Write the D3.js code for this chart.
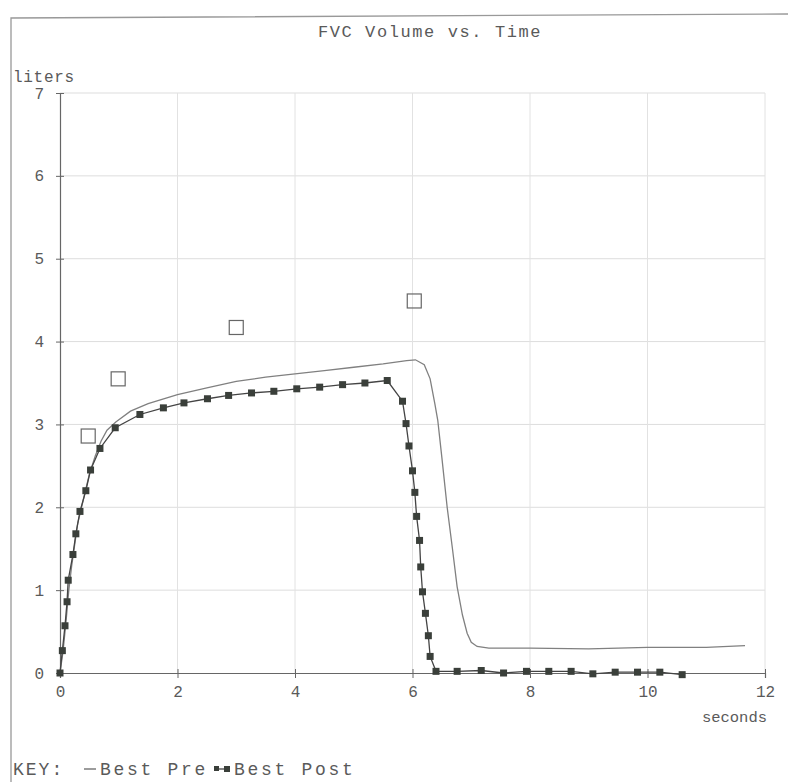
<!DOCTYPE html>
<html><head><meta charset="utf-8">
<script src="https://cdn.jsdelivr.net/npm/d3@7"></script>
<style>body{margin:0;background:#fff}svg{display:block}text{font-family:"Liberation Mono","DejaVu Sans Mono",monospace;fill:#5a5a5a}</style>
</head><body>
<script>
const title = "FVC Volume vs. Time";
const xTicks = [0,2,4,6,8,10,12];
const yTicks = [0,1,2,3,4,5,6,7];
// Best Pre (solid line)
const preT = [0,0.05,0.1,0.15,0.2,0.3,0.4,0.5,0.6,0.7,0.8,0.95,1.2,1.5,2,2.5,3,3.5,4,4.5,5,5.5,5.9,6.05,6.2,6.3,6.38,6.43,6.5,6.59,6.68,6.76,6.85,6.93,7.0,7.1,7.3,8,9,10,11,11.66];
const preV = [0,0.25,0.6,1.0,1.3,1.8,2.1,2.4,2.62,2.8,2.93,3.03,3.16,3.25,3.36,3.44,3.52,3.57,3.61,3.65,3.69,3.73,3.77,3.78,3.72,3.55,3.25,3.05,2.6,2.0,1.5,1.04,0.7,0.48,0.37,0.32,0.3,0.3,0.29,0.31,0.31,0.33];
// Best Post (squares)
const postT = [0,0.04,0.085,0.12,0.14,0.22,0.27,0.34,0.44,0.52,0.68,0.94,1.36,1.76,2.11,2.51,2.87,3.26,3.64,4.03,4.42,4.81,5.19,5.57,5.83,5.89,5.94,6.0,6.04,6.07,6.12,6.14,6.17,6.22,6.27,6.3,6.4,6.76,7.17,7.55,7.94,8.32,8.7,9.07,9.45,9.83,10.21,10.59];
const postV = [0,0.27,0.57,0.86,1.12,1.43,1.68,1.95,2.2,2.45,2.71,2.96,3.12,3.2,3.26,3.31,3.35,3.38,3.40,3.43,3.45,3.48,3.50,3.53,3.28,3.01,2.74,2.44,2.18,1.89,1.60,1.28,0.98,0.72,0.45,0.2,0.02,0.02,0.03,0.0,0.02,0.02,0.02,-0.01,0.01,0.01,0.01,-0.02];
// Predicted (open squares)
const predT = [0.48,0.99,3.0,6.03];
const predV = [2.86,3.55,4.17,4.49];

const W=788,H=782;
const svg=d3.select("body").append("svg").attr("width",W).attr("height",H);
const x=d3.scaleLinear().domain([0,12]).range([60,765]);
const y=d3.scaleLinear().domain([0,7]).range([673,93]);

// page frame
svg.append("path").attr("d","M11,782 L11,18 L788,14").attr("fill","none").attr("stroke","#999").attr("stroke-width",1.3);

// grid
svg.append("g").selectAll("line").data(yTicks.filter(d=>d>0)).join("line")
  .attr("x1",x(0)).attr("x2",x(12)).attr("y1",d=>y(d)).attr("y2",d=>y(d))
  .attr("stroke","#ddd").attr("stroke-width",1);
svg.append("g").selectAll("line").data(xTicks.filter(d=>d>0)).join("line")
  .attr("y1",y(0)).attr("y2",y(7)).attr("x1",d=>x(d)).attr("x2",d=>x(d))
  .attr("stroke","#e2e2e2").attr("stroke-width",1);

// axes
const ax=d3.axisLeft(y).tickValues(yTicks).tickSize(4).tickPadding(12).tickFormat(d3.format("d"));
const gy=svg.append("g").attr("transform",`translate(${x(0)},0)`).call(ax);
const bx=d3.axisBottom(x).tickValues(xTicks).tickSize(5).tickPadding(8).tickFormat(d3.format("d"));
const gx=svg.append("g").attr("transform",`translate(0,${y(0)})`).call(bx);
[gy,gx].forEach(g=>{
  g.select(".domain").attr("stroke","#666").attr("stroke-width",1.2);
  g.selectAll(".tick line").attr("stroke","#666");
  g.selectAll(".tick text").attr("font-size",16).attr("fill","#5a5a5a").style("font-family","Liberation Mono, monospace");
});
gx.selectAll(".tick line").attr("y1",-4);
gy.selectAll(".tick line").attr("x1",4);

// labels
svg.append("text").attr("x",430).attr("y",37).attr("text-anchor","middle").attr("font-size",17).attr("letter-spacing",1.6).text(title);
svg.append("text").attr("x",13).attr("y",82).attr("font-size",16).attr("letter-spacing",0.7).text("liters");
svg.append("text").attr("x",767).attr("y",722).attr("text-anchor","end").attr("font-size",15.5).text("seconds");

// pre line
svg.append("path").datum(preT.map((t,i)=>[t,preV[i]]))
  .attr("d",d3.line().x(d=>x(d[0])).y(d=>y(d[1])))
  .attr("fill","none").attr("stroke","#808080").attr("stroke-width",1.3);

// post line + squares
const post=postT.map((t,i)=>[t,postV[i]]);
svg.append("path").datum(post)
  .attr("d",d3.line().x(d=>x(d[0])).y(d=>y(d[1])))
  .attr("fill","none").attr("stroke","#444").attr("stroke-width",1.3);
svg.append("g").selectAll("rect").data(post).join("rect")
  .attr("x",d=>x(d[0])-3.5).attr("y",d=>y(d[1])-3.5).attr("width",7).attr("height",7)
  .attr("fill","#3a3f3a");

// predicted
svg.append("g").selectAll("rect").data(predT.map((t,i)=>[t,predV[i]])).join("rect")
  .attr("x",d=>x(d[0])-7).attr("y",d=>y(d[1])-7).attr("width",14).attr("height",14)
  .attr("fill","none").attr("stroke","#666").attr("stroke-width",1.2);

// key
const ky=775, kfs=18, kls=2.7;
svg.append("text").attr("x",13).attr("y",ky).attr("font-size",kfs).attr("letter-spacing",2.0).text("KEY:");
svg.append("line").attr("x1",84).attr("x2",96).attr("y1",ky-6).attr("y2",ky-6).attr("stroke","#666").attr("stroke-width",1.3);
svg.append("text").attr("x",100).attr("y",ky).attr("font-size",kfs).attr("letter-spacing",kls).text("Best Pre");
svg.append("line").attr("x1",216).attr("x2",229).attr("y1",ky-6).attr("y2",ky-6).attr("stroke","#444").attr("stroke-width",1.3);
svg.append("rect").attr("x",214).attr("y",ky-9).attr("width",5).attr("height",5).attr("fill","#3a3f3a");
svg.append("rect").attr("x",224).attr("y",ky-9).attr("width",6).attr("height",6).attr("fill","#3a3f3a");
svg.append("text").attr("x",234).attr("y",ky).attr("font-size",kfs).attr("letter-spacing",kls).text("Best Post");
</script>
</body></html>
